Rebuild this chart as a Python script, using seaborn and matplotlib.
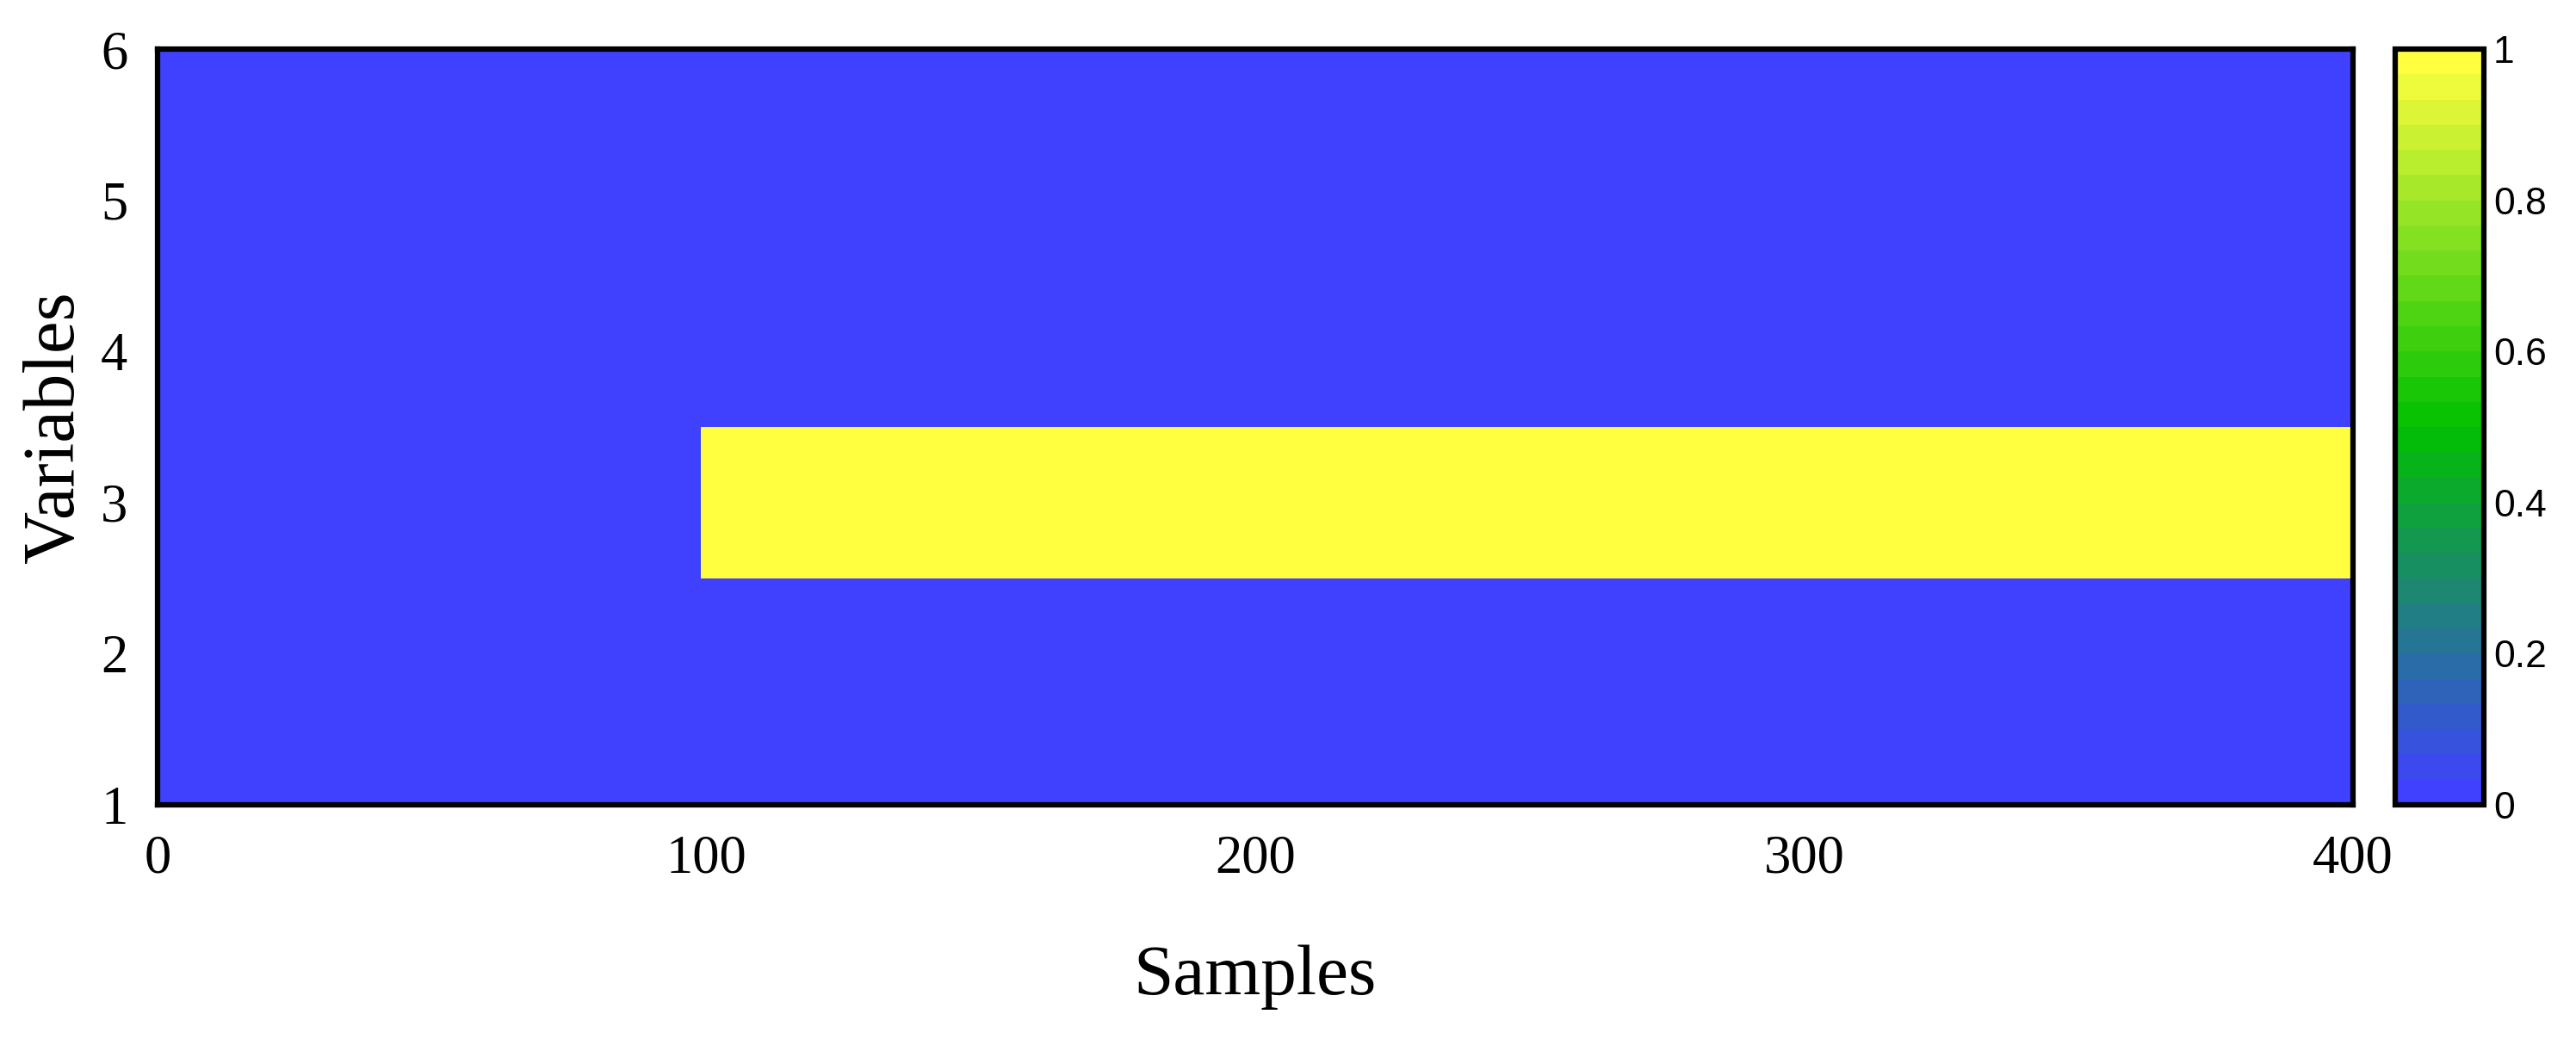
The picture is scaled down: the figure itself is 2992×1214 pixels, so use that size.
"""
Mapa de estado de fallas: variables vs muestras.
"""
import numpy as np
import matplotlib.pyplot as plt
import seaborn as sns
from matplotlib.colors import LinearSegmentedColormap

# -----------------------------------------------------------------------------
# Datos
# -----------------------------------------------------------------------------
variables = [1, 2, 3, 4, 5, 6]
n_samples = 400
fault_variable = 3
fault_start = 100          # primera muestra con falla (1-indexada)
fault_value = 1.0

x_ticks = [0, 100, 200, 300, 400]
cbar_ticks = [0, 0.2, 0.4, 0.6, 0.8, 1]
cbar_labels = ["0", "0.2", "0.4", "0.6", "0.8", "1"]
cmap_nodes = ["#4040FF", "#00C000", "#FFFF40"]

status = np.zeros((len(variables), n_samples))
status[variables.index(fault_variable), fault_start - 1:] = fault_value

# -----------------------------------------------------------------------------
# Figura
# -----------------------------------------------------------------------------
sns.set_style("white")
plt.rcParams["text.color"] = "black"
plt.rcParams["xtick.color"] = "black"
plt.rcParams["ytick.color"] = "black"
plt.rcParams["axes.labelcolor"] = "black"
serif = ["Liberation Serif", "DejaVu Serif"]
sans = ["Liberation Sans", "DejaVu Sans"]

cmap = LinearSegmentedColormap.from_list("byg", cmap_nodes, N=30)

fig = plt.figure(figsize=(29.92, 12.14), dpi=100)
ax = fig.add_axes([0.0612, 0.2298, 0.8522, 0.7232])
cax = fig.add_axes([0.9298, 0.2298, 0.0344, 0.7232])

sns.heatmap(status, cmap=cmap, vmin=0, vmax=1, ax=ax, cbar_ax=cax,
            linewidths=0, xticklabels=False, yticklabels=False)

ax.set_xlim(0, n_samples)
ax.set_ylim(0.5, len(variables) - 0.5)
ax.set_xticks(x_ticks)
ax.set_xticklabels([str(t) for t in x_ticks], family=serif, fontsize=45)
ax.set_yticks([v - 0.5 for v in variables])
ax.set_yticklabels([str(v) for v in variables], family=serif, fontsize=45,
                   rotation=0)
ax.tick_params(axis="both", length=0, pad=25, colors="black")
ax.set_xlabel("Samples", family=serif, fontsize=60, labelpad=50,
              color="black")
ax.set_ylabel("Variables", family=serif, fontsize=61, labelpad=10,
              color="black")
for s in ax.spines.values():
    s.set_visible(True)
    s.set_linewidth(4.5)
    s.set_color("black")

cbar = ax.collections[0].colorbar
cbar.set_ticks(cbar_ticks)
cbar.set_ticklabels(cbar_labels)
cbar.outline.set_visible(True)
cbar.outline.set_linewidth(4.5)
cbar.outline.set_edgecolor("black")
cax.tick_params(length=0, pad=8, colors="black")
for lbl in cax.get_yticklabels():
    lbl.set_family(sans)
    lbl.set_fontsize(32)

fig.savefig("out.png", dpi=100)
